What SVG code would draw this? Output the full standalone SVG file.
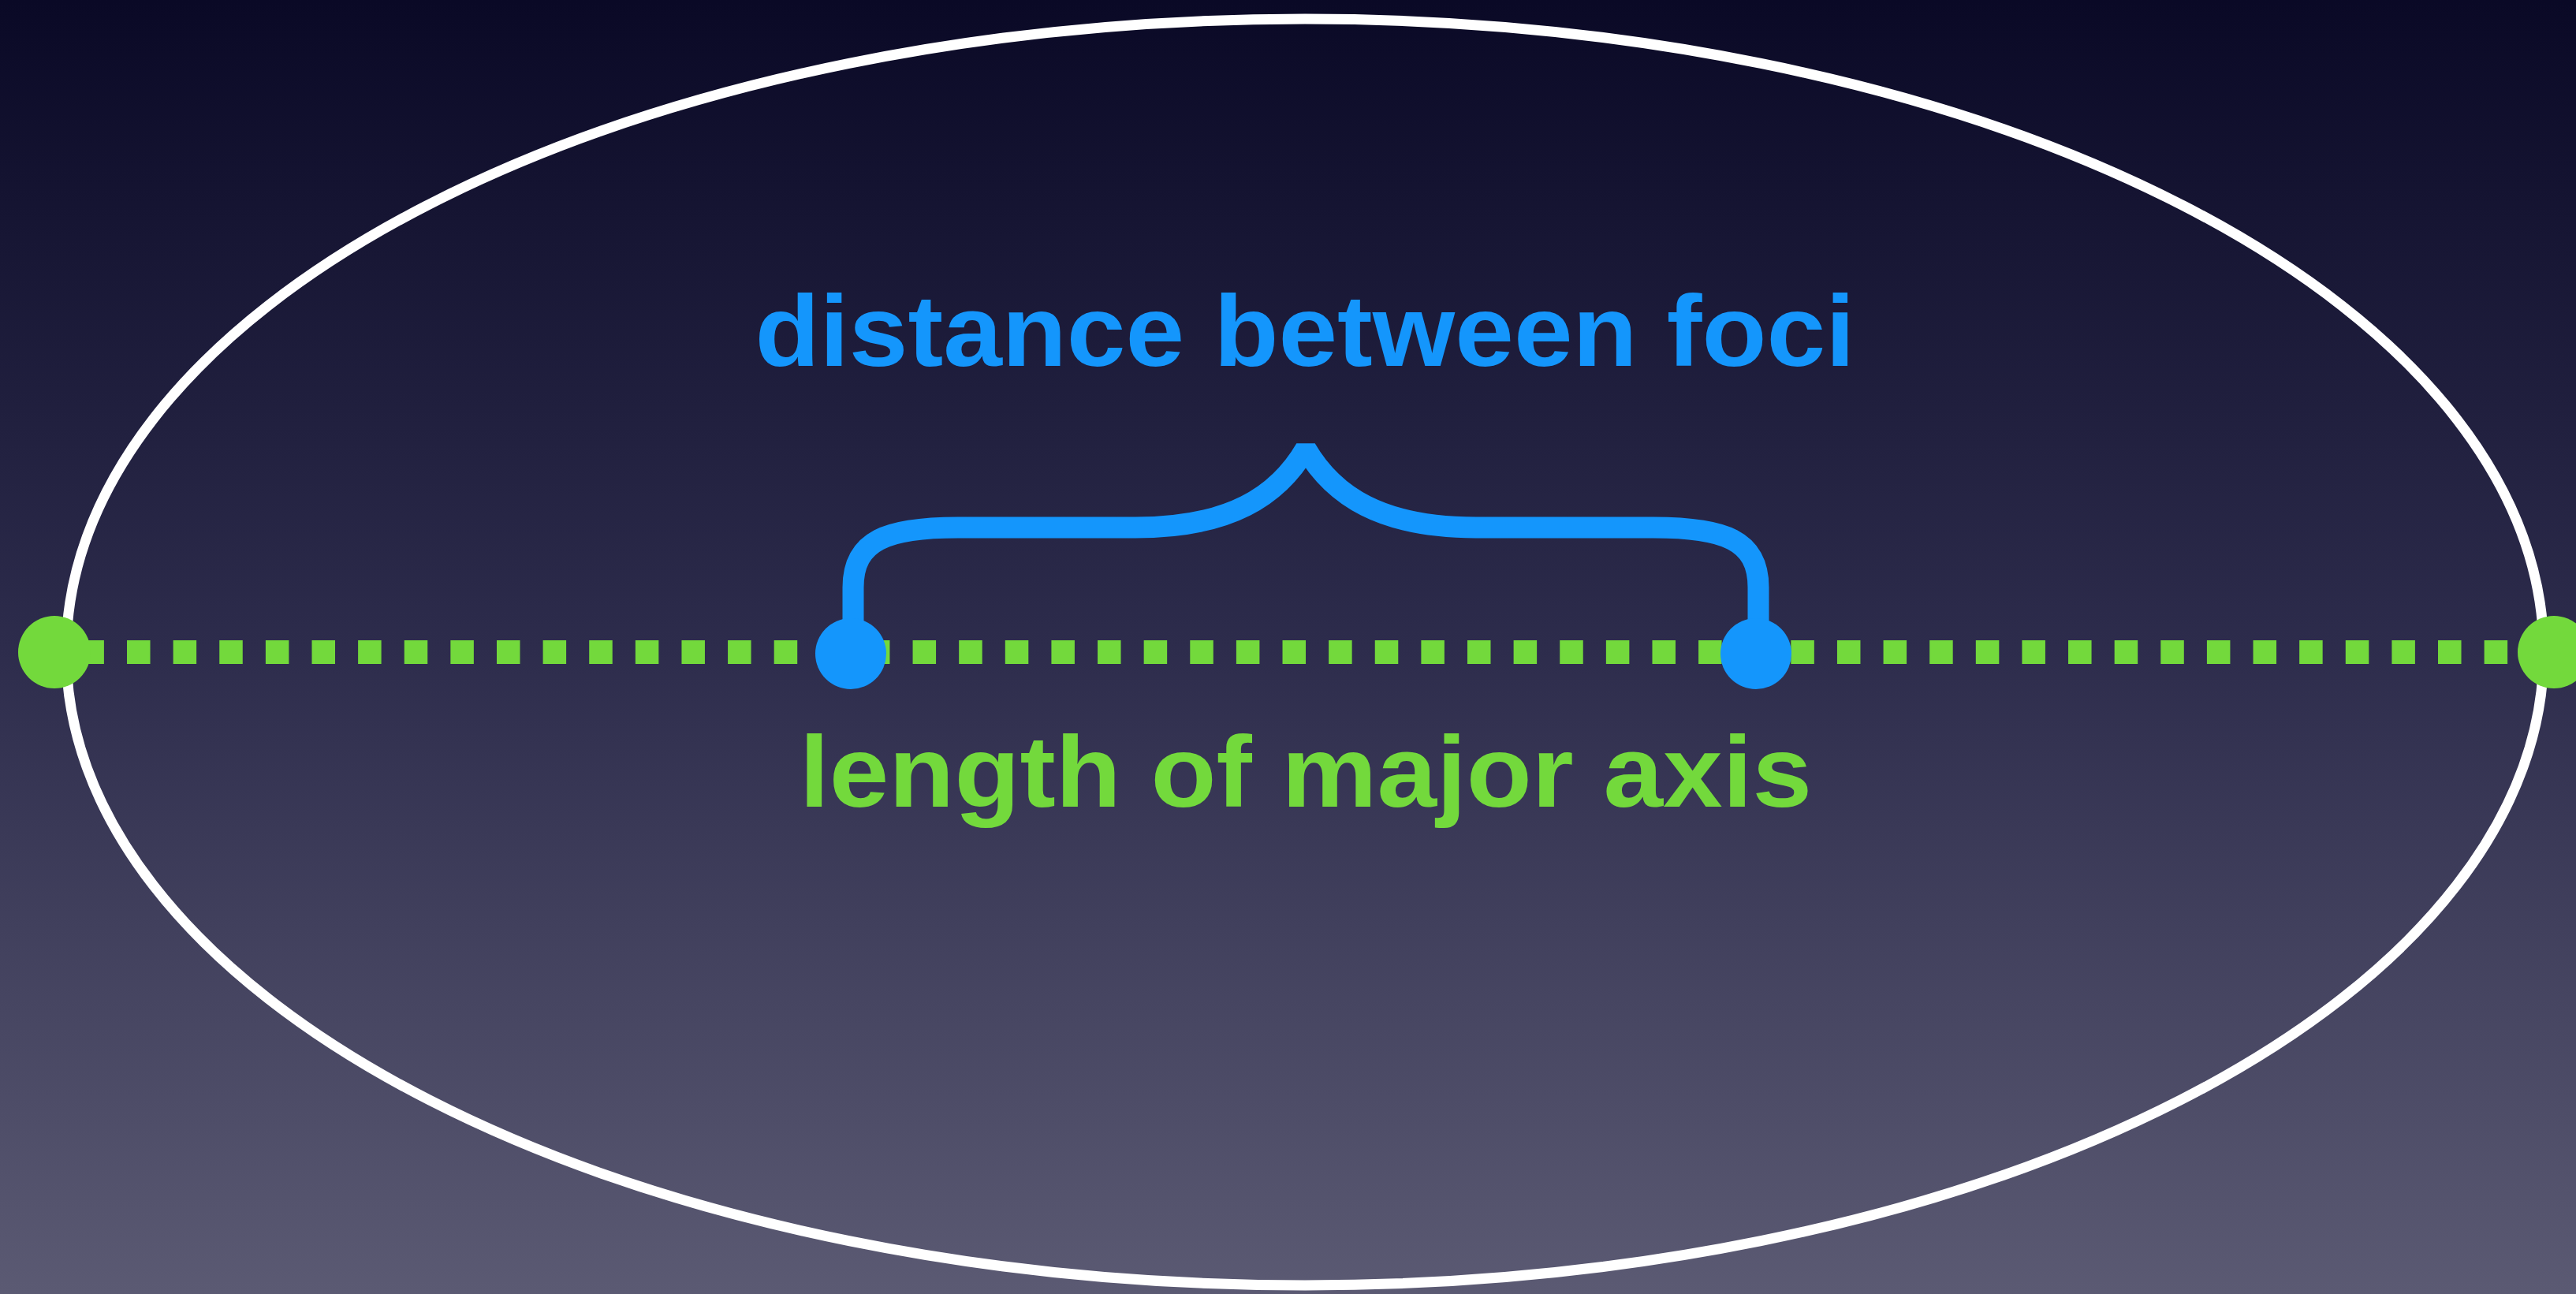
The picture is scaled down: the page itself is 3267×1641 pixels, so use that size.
<svg xmlns="http://www.w3.org/2000/svg" width="3267" height="1641" viewBox="0 0 3267 1641">
<defs>
<linearGradient id="bg" x1="0" y1="0" x2="0" y2="1">
<stop offset="0" stop-color="#0a0926"/>
<stop offset="0.5" stop-color="#2d2c4c"/>
<stop offset="1" stop-color="#5b5a73"/>
</linearGradient>
</defs>
<style>
.lbl{font-family:"Liberation Sans",Arial,sans-serif;font-weight:bold;text-anchor:middle}
.green{fill:#73d93c}
.blue{fill:#1496fc}
</style>
<rect width="3267" height="1641" fill="url(#bg)"/>
<g id="ellipse">
<ellipse cx="1655" cy="827" rx="1571" ry="803" fill="none" stroke="#ffffff" stroke-width="13"/>
</g>
<g id="connectors">
<line id="major-axis" x1="102.4" y1="827" x2="3239" y2="827" stroke="#73d93c" stroke-width="30" stroke-dasharray="29.5 29.12"/>
<path id="brace" d="M1082 810 L1082 745 C1082 685 1125 669 1215 669 L1440 669 C1560 669 1621 629 1656 569 C1691 629 1752 669 1872 669 L2097 669 C2187 669 2230 685 2230 745 L2230 810" fill="none" stroke="#1496fc" stroke-width="27" stroke-linejoin="bevel"/>
</g>
<g id="vertex-left"><circle class="green" cx="69" cy="827" r="46"/></g>
<g id="vertex-right"><circle class="green" cx="3239" cy="827" r="46"/></g>
<g id="focus-left"><circle class="blue" cx="1079" cy="829" r="45"/></g>
<g id="focus-right"><circle class="blue" cx="2227" cy="829" r="45"/></g>
<g id="label-foci"><text class="lbl blue" x="1655" y="464" font-size="128" textLength="1395" lengthAdjust="spacingAndGlyphs">distance between foci</text></g>
<g id="label-axis"><text class="lbl green" x="1656" y="1023" font-size="128" textLength="1284" lengthAdjust="spacingAndGlyphs">length of major axis</text></g>
</svg>
